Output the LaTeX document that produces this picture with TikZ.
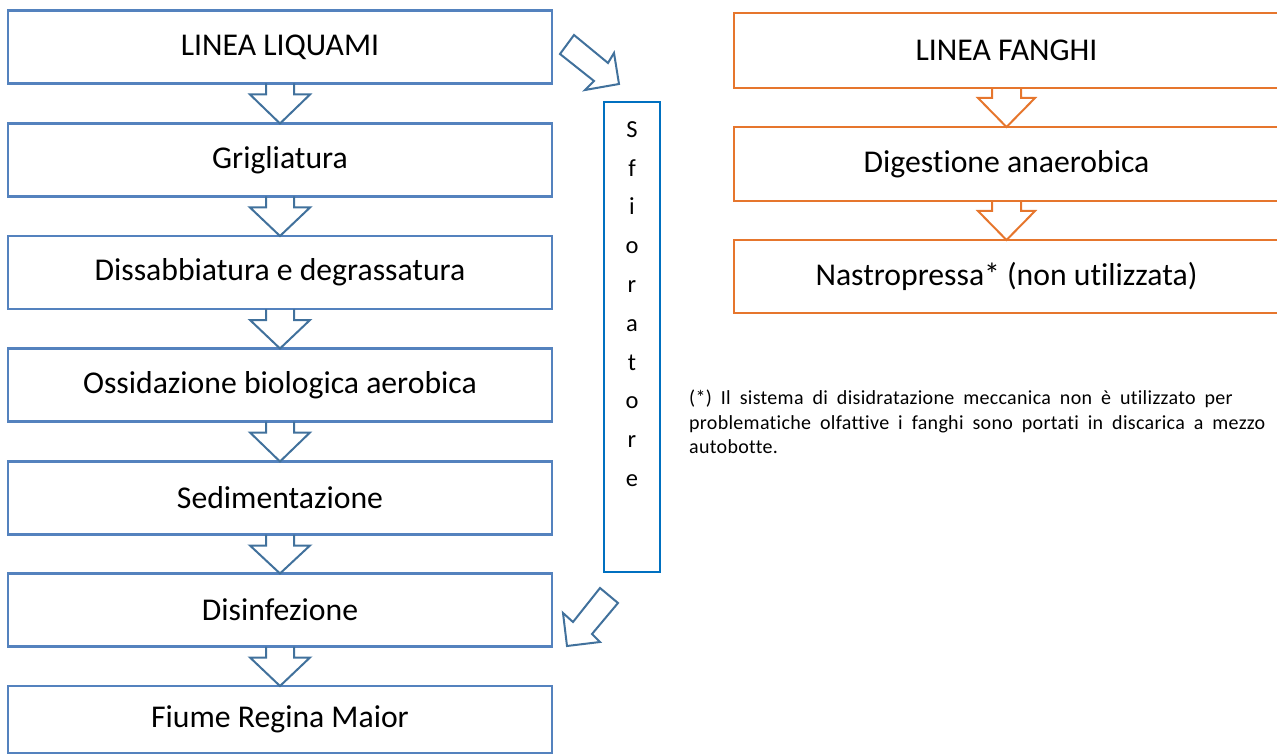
\documentclass[tikz,border=0pt]{standalone}
\usepackage{fontspec}
\setmainfont{Carlito}[Ligatures=NoCommon]
\newfontfamily\notefamily{Carlito}[Ligatures=NoCommon, LetterSpace=1.5]
\usetikzlibrary{calc}
\definecolor{boxblue}{RGB}{84,130,190}
\definecolor{arrowblue}{RGB}{65,113,156}
\definecolor{weirblue}{RGB}{0,112,192}
\definecolor{sludge}{RGB}{230,118,45}
\newcommand{\notefont}{\notefamily\fontsize{20}{24.5}\selectfont\spaceskip=9pt plus 0pt minus 0pt\relax}
\begin{document}
\begin{tikzpicture}[x=1pt,y=-1pt,
  stage/.style={draw=boxblue, line width=2.3pt, minimum width=544pt, minimum height=73pt,
    inner sep=0pt, outer sep=0pt, font=\fontsize{31.7}{36}\selectfont},
  sstage/.style={draw=sludge, line width=2.3pt, minimum width=545pt, minimum height=74pt,
    inner sep=0pt, outer sep=0pt, font=\fontsize{31.7}{36}\selectfont},
  weirbox/.style={draw=weirblue, line width=1.6pt, minimum width=56pt, minimum height=470pt,
    inner sep=0pt, outer sep=0pt},
  blockarrow/.style={draw=#1, line width=2pt, line join=miter},
  note/.style={inner sep=0pt, align=left, font=\notefont}]
\useasboundingbox (0,0) rectangle (1277,754);

% wastewater line
\node[stage] (l1) at (280,47)    {LINEA LIQUAMI};
\node[stage] (l2) at (280,160)   {Grigliatura};
\node[stage] (l3) at (280,272.5) {Dissabbiatura e degrassatura};
\node[stage] (l4) at (280,385)   {Ossidazione biologica aerobica};
\node[stage] (l5) at (280,498)   {Sedimentazione};
\node[stage] (l6) at (280,610)   {Disinfezione};
\node[stage, minimum height=67pt] (l7) at (280,719.5) {Fiume Regina Maior};

% sludge line
\node[sstage, minimum height=75pt] (f1) at (1006.5,50.5) {LINEA FANGHI};
\node[sstage] (f2) at (1006.5,164)   {Digestione anaerobica};
\node[sstage, minimum height=73pt] (f3) at (1006.5,276.5) {Nastropressa* (non utilizzata)};

% overflow
\node[weirbox] (sf) at (632,337) {};
\node[inner sep=0pt, align=center, font=\fontsize{24.5}{38.8}\selectfont] (sftxt) at (632,304)
  {S\\f\\i\\o\\r\\a\\t\\o\\r\\e};

% block arrows between stages
\foreach \a/\b in {l1/l2,l2/l3,l3/l4,l4/l5,l5/l6,l6/l7}
  \draw[blockarrow=arrowblue] ($(\a.south)+(-14,0)$) -- ++(0,11) -- ++(-16,0) -- (\b.north)
    -- ($(\a.south)+(30,11)$) -- ++(-16,0) -- ++(0,-11);
\foreach \a/\b in {f1/f2,f2/f3}
  \draw[blockarrow=sludge] ($(\a.south)+(-14.5,0)$) -- ++(0,10) -- ++(-14,0) -- (\b.north)
    -- ($(\a.south)+(28.5,10)$) -- ++(-14,0) -- ++(0,-10);

% diagonal arrows to and from the overflow
\draw[blockarrow=arrowblue] (560,54) -- (574,35) -- (608,63) -- (614,53) -- (619,84)
  -- (585,90) -- (594,81) -- cycle;
\draw[blockarrow=arrowblue] (600,588) -- (618,603) -- (592,634) -- (600,642) -- (567,646)
  -- (563,613) -- (573,622) -- cycle;

% footnote
\node[note, anchor=north west] (fn) at (689,390)
  {(*) Il sistema di disidratazione meccanica non è utilizzato per\\
   problematiche olfattive i fanghi sono portati in discarica a mezzo\\
   autobotte.};
\end{tikzpicture}
\end{document}
